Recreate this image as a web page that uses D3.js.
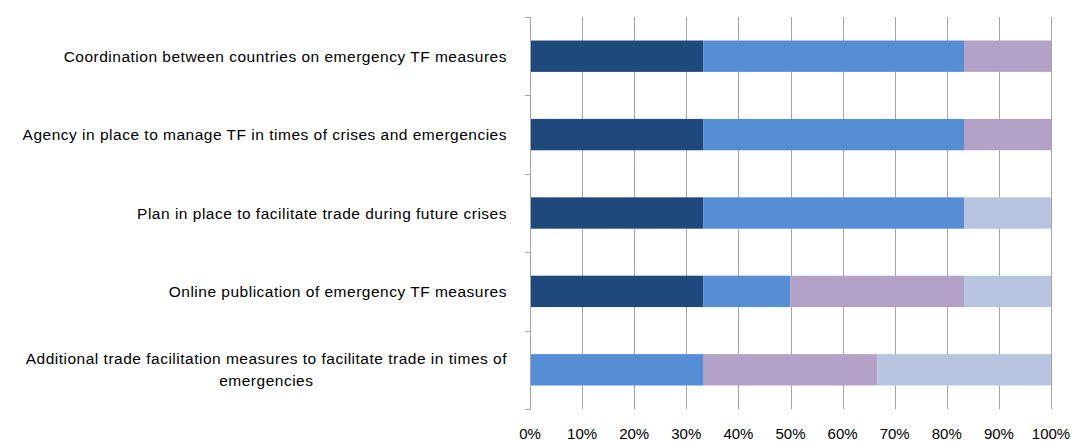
<!DOCTYPE html>
<html>
<head>
<meta charset="utf-8">
<script src="https://cdn.jsdelivr.net/npm/d3@7"></script>
<style>
  html, body { margin: 0; padding: 0; background: #fff; }
  svg { display: block; }
  text { font-family: "Liberation Sans", Arial, sans-serif; fill: #000; }
</style>
</head>
<body>
<svg id="chart" width="1073" height="441"></svg>
<script>
// ---- data ----
const categories = [
  "Coordination between countries on emergency TF measures",
  "Agency in place to manage TF in times of crises and emergencies",
  "Plan in place to facilitate trade during future crises",
  "Online publication of emergency TF measures",
  "Additional trade facilitation measures to facilitate trade in times of emergencies"
];
const seriesNames = ["s1", "s2", "s3", "s4"];
const series1 = [33.3, 33.3, 33.3, 33.3, 0];
const series2 = [50.0, 50.0, 50.0, 16.7, 33.3];
const series3 = [16.7, 16.7, 0, 33.3, 33.3];
const series4 = [0, 0, 16.7, 16.7, 33.3];
const seriesColors = ["#1f497d", "#558ed5", "#b3a2c7", "#b6c4df"];
const xTickValues = [0, 0.1, 0.2, 0.3, 0.4, 0.5, 0.6, 0.7, 0.8, 0.9, 1.0];

// ---- layout ----
const plotLeft = 530, plotRight = 1051, plotTop = 17, plotBottom = 409;
const svg = d3.select("#chart");

const rows = categories.map((c, i) => ({
  cat: c, s1: series1[i], s2: series2[i], s3: series3[i], s4: series4[i]
}));
const stacked = d3.stack().keys(seriesNames).offset(d3.stackOffsetExpand)(rows);

const x = d3.scaleLinear().domain([0, 1]).range([plotLeft, plotRight]);
const y = d3.scaleBand().domain(categories).range([plotTop, plotBottom])
  .paddingInner(0.6).paddingOuter(0.3);

// gridlines
svg.append("g").selectAll("line").data(xTickValues.slice(1)).join("line")
  .attr("x1", d => Math.round(x(d)) + 0.5).attr("x2", d => Math.round(x(d)) + 0.5)
  .attr("y1", plotTop).attr("y2", plotBottom)
  .attr("stroke", "#a6a6a6").attr("stroke-width", 1);

// bars
svg.append("g").selectAll("g").data(stacked).join("g")
  .attr("fill", (d, i) => seriesColors[i])
  .selectAll("rect").data(d => d).join("rect")
  .attr("x", d => x(d[0]))
  .attr("width", d => Math.max(0, x(d[1]) - x(d[0])))
  .attr("y", d => y(d.data.cat))
  .attr("height", y.bandwidth());

// category axis line and ticks at band boundaries
const step = y.step();
const bounds = d3.range(categories.length + 1).map(i => plotTop + i * step);
svg.append("line")
  .attr("x1", plotLeft + 0.5).attr("x2", plotLeft + 0.5)
  .attr("y1", plotTop).attr("y2", plotBottom)
  .attr("stroke", "#a6a6a6").attr("stroke-width", 1);
svg.append("g").selectAll("line").data(bounds).join("line")
  .attr("x1", plotLeft - 5).attr("x2", plotLeft + 0.5)
  .attr("y1", d => Math.round(d) + 0.5).attr("y2", d => Math.round(d) + 0.5)
  .attr("stroke", "#a6a6a6").attr("stroke-width", 1);

// category labels (wrap long ones, centred block right-aligned)
const labelRight = 507, maxLabelWidth = 500, fontSize = 15.5, lineH = 22, spacing = 0.5;
categories.forEach(cat => {
  const cy = y(cat) + y.bandwidth() / 2;
  const g = svg.append("g");
  const words = cat.split(" ");
  const lines = [];
  let cur = [];
  const probe = g.append("text").style("font-size", fontSize + "px").style("letter-spacing", spacing + "px");
  words.forEach(w => {
    const trial = cur.concat([w]).join(" ");
    probe.text(trial);
    if (probe.node().getComputedTextLength() > maxLabelWidth && cur.length) {
      lines.push(cur.join(" "));
      cur = [w];
    } else {
      cur.push(w);
    }
  });
  lines.push(cur.join(" "));
  probe.remove();
  const texts = lines.map(l => g.append("text")
    .style("font-size", fontSize + "px").style("letter-spacing", spacing + "px").text(l));
  const widths = texts.map(t => t.node().getComputedTextLength());
  const maxW = d3.max(widths);
  const cx = labelRight - maxW / 2;
  const startY = cy - (lines.length - 1) * lineH / 2;
  texts.forEach((t, i) => {
    t.attr("x", cx).attr("y", startY + i * lineH)
      .attr("text-anchor", "middle").attr("dominant-baseline", "central");
  });
});

// x axis labels
svg.append("g").selectAll("text").data(xTickValues).join("text")
  .attr("x", d => x(d)).attr("y", 433)
  .attr("text-anchor", "middle").attr("dominant-baseline", "central")
  .style("font-size", "15px")
  .text(d3.format(".0%"));
</script>
</body>
</html>
